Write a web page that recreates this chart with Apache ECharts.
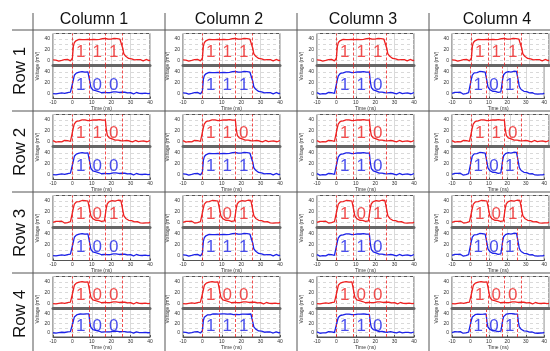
<!DOCTYPE html>
<html>
<head>
<meta charset="utf-8">
<script src="https://cdn.jsdelivr.net/npm/echarts@6/dist/echarts.min.js"></script>
<style>
  html, body { margin: 0; padding: 0; background: #fff; }
  #chart { width: 550px; height: 351px; }
</style>
</head>
<body>
<div id="chart"></div>
<script>
// sampling of the scope traces
const timeStart = -10
const timeStep = 0.5

// voltage traces (mV), one per bit pattern, sampled every 0.5 ns from -10 ns
const wave111 = [0.5, -1.2, 1.8, 0.2, -0.8, 1.5, -1.6, 0.9, 2.1, -0.4, 0.7, -1.9, 1.1, 0.3, -1.0, 1.6, -0.6, 0.8, -1.3, 1.2,
  4, 26, 33, 35.5, 36.8, 38.2, 37.6, 39.1, 38.4, 39.6, 38.7, 40.2, 39.1, 38.5, 40.3, 39.4, 38.8, 40.1,
  39.3, 38.6, 40.4, 39.5, 38.9, 40.6, 39.2, 38.7, 40.1, 39.8, 38.9, 40.5, 39.4, 40.2, 38.8, 39.7, 40.6, 39.1, 40.3, 39.6,
  38.7, 40.8, 39.5, 40.1, 39.0, 40.7, 39.8, 38.9, 40.4, 39.6, 40.9, 39.3, 40.2, 38.5,
  22, 12, 8.5, 7.2, 5.1, 4.8, 3.2, 3.9, 1.9, 2.6, 1.1, 2.3, 0.4, 1.8, -0.6, 1.2, 0.3, -1.1, 0.9, -0.4,
  1.5, -1.3, 0.6, -0.8, 1.3, -0.2, 0.8, -1.0, 0.5]
const wave110 = [1.1, -0.4, 0.6, -1.8, 1.3, 0.0, -0.9, 1.9, 0.5, -1.2, 0.8, -0.3, 1.6, -1.4, 0.4, 1.0, -0.7, 2.0, -0.2, 0.7,
  3.5, 25.5, 32.5, 35.2, 36.9, 37.8, 38.9, 38.2, 39.4, 38.6, 40.1, 39.0, 38.4, 39.9, 40.5, 39.2, 38.7, 40.2, 39.5, 38.8,
  40.6, 39.3, 39.9, 38.6, 40.4, 39.7, 41.0, 39.4, 40.3, 39.1, 40.8, 39.6, 40.2, 41.1,
  39.5, 21, 11, 8, 6.1, 5.2, 3.9, 4.3, 2.8, 3.4, 1.9, 2.6, 1.1, 2.0, 0.6, 1.7, 0.9, 2.2, 1.3, 0.4,
  1.8, 0.7, 1.5, -0.2, 1.1, 0.3, -0.6, 1.0, -1.2, 0.5, -0.4, 1.3, -1.6, 0.2, -0.8, 0.9, -1.4, -0.1, 1.2, -1.9,
  0.3, -0.6, 0.8, -1.1, 0.6, -0.3, 0.9]
const wave101 = [-0.3, 0.9, -1.4, 1.6, 0.2, -0.6, 1.3, -1.0, 0.7, 1.8, -0.5, 0.1, -1.7, 1.2, 0.6, -0.9, 1.5, -0.2, 0.8, -1.1,
  4.5, 26.5, 33.8, 36.4, 37.9, 38.6, 39.3, 38.5, 40.1, 39.2, 40.6, 39.5, 38.9, 40.4, 39.8, 40.9, 39.6, 40.2,
  21.5, 11.8, 8.4, 6.6, 5.3, 4.9, 3.6, 4.2, 2.7, 3.3, 2.1, 2.8, 1.5, 2.4, 1.9, 2.6,
  4, 27, 34.5, 37.2, 38.6, 40.1, 41.4, 40.3, 41.2, 40.0, 39.4, 40.8, 39.7, 41.1, 40.2, 39.5, 40.6, 39.8,
  22, 12.3, 8.8, 6.9, 5.4, 4.6, 3.5, 4.0, 2.2, 2.9, 1.3, 2.0, 0.5, 1.6, -0.4, 0.9, -1.0, 0.3, -1.5, -0.6,
  0.7, -1.8, -0.9, 0.4, -1.3, -0.2, 0.6, -1.1, 0.2]
const wave100 = [-0.7, 1.4, 0.3, -1.5, 0.9, 2.0, -0.3, -1.1, 1.2, 0.4, -0.9, 1.7, -0.2, 0.6, -1.6, 1.0, 0.1, -0.5, 1.9, -0.8,
  3, 25, 33.5, 36.2, 37.5, 38.9, 38.1, 39.6, 40.2, 39.1, 40.5, 39.7, 40.8, 39.4, 40.3, 41.0, 39.8, 40.4,
  21, 11.5, 8.2, 6.3, 5.5, 4.1, 4.6, 3.2, 2.4, 3.1, 1.6, 2.2, 0.8, 1.9, 0.3, 1.4, 0.9, 2.1, 1.2, 0.4,
  2.3, 1.0, 0.2, 1.6, 2.4, 0.7, 1.8, 2.6, 1.2, 2.9, 1.5, 2.2, 3.0, 1.7, 2.5, 3.1, 1.9, 1.0, 2.2, 0.5,
  1.4, -0.3, 0.9, -0.8, 1.1, -1.5, 0.2, -0.9, 1.3, -1.7, 0.4, -0.5, 1.0, -1.9, -0.6, 0.8, -1.4, 0.1, -2.0, 0.6,
  -0.7, 1.2, -0.3]

// table layout: red (top) pattern per row, blue (bottom) pattern per column
const rowNames = ['Row 1', 'Row 2', 'Row 3', 'Row 4']
const colNames = ['Column 1', 'Column 2', 'Column 3', 'Column 4']
const rowPatterns = ['111', '110', '101', '100']
const colPatterns = ['100', '111', '110', '101']

const bitEdges = [0, 8.5, 17, 25.5]      // red dashed markers (ns)
const bitCenters = [4.25, 12.75, 21.25]  // where the digits sit (ns)
const digitLevel = 14                    // mV
const yLabelValues = [0, 20, 40]

const waves = { '111': wave111, '110': wave110, '101': wave101, '100': wave100 }

const RED = '#ee2020'
const BLUE = '#1c22e8'
const FONT = '"Liberation Sans", Arial, sans-serif'

const cellLefts = [33, 165, 297, 429]
const plotLefts = [53, 183, 317, 452]
const rowTops = [30, 111, 192, 273]
const plotW = 97
const plotH = 32

const chart = echarts.init(document.getElementById('chart'), null, { renderer: 'canvas' })

const grid = []
const xAxis = []
const yAxis = []
const series = []
const graphic = []

function tracePoints(values) {
  return values.map((v, i) => [timeStart + i * timeStep, v])
}

function addPlot(left, top, pattern, color, isBottom) {
  const gi = grid.length
  grid.push({ left: left, top: top, width: plotW, height: plotH, show: true, borderColor: '#555', borderWidth: 1, backgroundColor: '#fff' })
  xAxis.push({
    gridIndex: gi, type: 'value', min: -10, max: 40, interval: 10,
    axisLine: { show: true, onZero: false, lineStyle: { color: isBottom ? '#555' : '#666', width: isBottom ? 1 : 3 } },
    axisTick: { show: isBottom, inside: true, length: 2, lineStyle: { color: '#555' } },
    axisLabel: { show: isBottom, fontSize: 5, color: '#333', margin: 2, fontFamily: FONT },
    splitLine: { show: true, lineStyle: { color: '#d0d0d0', width: 0.8 } },
    name: isBottom ? 'Time (ns)' : '', nameLocation: 'middle', nameGap: 8,
    nameTextStyle: { fontSize: 5, color: '#333', fontFamily: FONT }
  })
  yAxis.push({
    gridIndex: gi, type: 'value', min: -10, max: 50, interval: 10,
    axisLine: { show: false },
    axisTick: { show: false },
    axisLabel: {
      fontSize: 5, color: '#333', margin: 3, fontFamily: FONT,
      formatter: v => (yLabelValues.indexOf(v) >= 0 ? String(v) : '')
    },
    splitLine: { show: true, lineStyle: { color: '#d0d0d0', width: 0.8, type: [3, 3] } }
  })
  series.push({
    type: 'line', xAxisIndex: gi, yAxisIndex: gi,
    data: tracePoints(waves[pattern]),
    showSymbol: false, symbol: 'none',
    lineStyle: { color: color, width: 1.3 },
    z: 3,
    markLine: {
      silent: true, symbol: 'none', animation: false,
      label: { show: false },
      lineStyle: { color: RED, width: 0.8, type: [3, 2] },
      data: bitEdges.map(x => ({ xAxis: x }))
    }
  })
  series.push({
    type: 'scatter', xAxisIndex: gi, yAxisIndex: gi,
    data: bitCenters.map((x, i) => [x, digitLevel, pattern[i]]),
    symbolSize: 0, z: 5,
    label: {
      show: true, position: 'inside', formatter: p => p.value[2],
      fontSize: 17, color: color, fontFamily: FONT
    }
  })
}

rowTops.forEach((rt, r) => {
  plotLefts.forEach((pl, c) => {
    addPlot(pl, rt + 3.5, rowPatterns[r], RED, false)
    addPlot(pl, rt + 36.5, colPatterns[c], BLUE, true)
    graphic.push({
      type: 'text', x: pl - 15, y: rt + 36, rotation: Math.PI / 2,
      style: { text: 'Voltage (mV)', fontSize: 5, fill: '#333', font: '5px ' + FONT, textAlign: 'center', textVerticalAlign: 'middle' }
    })
  })
})

// table header text and separators
const colCenters = [94, 229, 363, 497]
colNames.forEach((n, c) => {
  graphic.push({
    type: 'text', x: colCenters[c], y: 20,
    style: { text: n, font: '16px ' + FONT, fill: '#111', textAlign: 'center', textVerticalAlign: 'middle' }
  })
})
rowNames.forEach((n, r) => {
  graphic.push({
    type: 'text', x: 20, y: rowTops[r] + 41, rotation: Math.PI / 2,
    style: { text: n, font: '17px ' + FONT, fill: '#111', textAlign: 'center', textVerticalAlign: 'middle' }
  })
})
cellLefts.forEach(x => {
  graphic.push({ type: 'line', shape: { x1: x, y1: 13, x2: x, y2: 351 }, style: { stroke: '#555', lineWidth: 1 } })
})
rowTops.forEach(y => {
  graphic.push({ type: 'line', shape: { x1: 12, y1: y, x2: 550, y2: y }, style: { stroke: '#555', lineWidth: 1 } })
})

chart.setOption({
  animation: false,
  grid: grid,
  xAxis: xAxis,
  yAxis: yAxis,
  series: series,
  graphic: graphic
})
</script>
</body>
</html>
